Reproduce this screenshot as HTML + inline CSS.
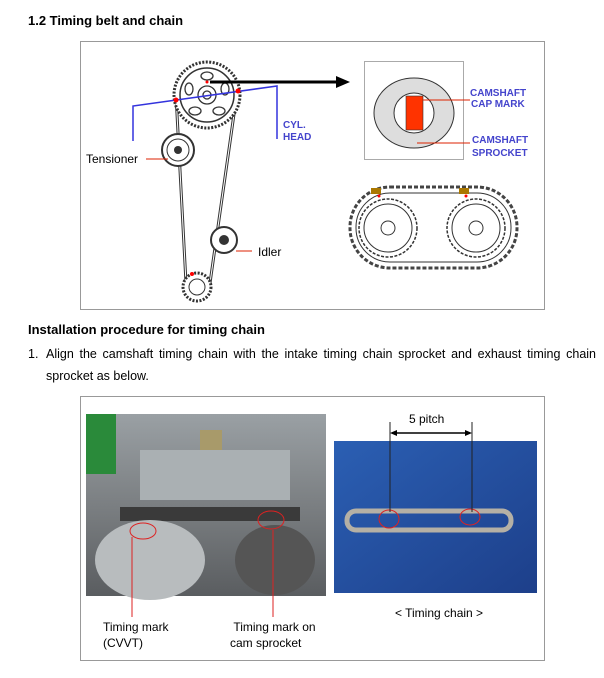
<!DOCTYPE html>
<html><head><style>
body{margin:0;background:#fff;font-family:"Liberation Sans",sans-serif;}
.t{position:absolute;white-space:nowrap;color:#000}
</style></head><body>
<div style="position:relative;width:604px;height:678px;overflow:hidden">
<div class="t" style="left:28px;top:13px;font-size:13px;font-weight:bold">1.2 Timing belt and chain</div>
<div class="t" style="left:28px;top:322px;font-size:13px;font-weight:bold">Installation procedure for timing chain</div>
<div class="t" style="left:28px;top:343px;font-size:12.5px;line-height:22px">1.</div>
<div class="t" style="left:46px;top:343px;width:550px;font-size:12.5px;line-height:22px;white-space:normal;text-align:justify;text-align-last:justify">Align the camshaft timing chain with the intake timing chain sprocket and exhaust timing chain</div>
<div class="t" style="left:46px;top:365px;font-size:12.5px;line-height:22px">sprocket as below.</div>

<svg style="position:absolute;left:0;top:0" width="604" height="678">
<rect x="80.5" y="41.5" width="464" height="268" fill="#fff" stroke="#999"/>
<path d="M176 95 L186 283 M236 100 L210 283" stroke="#333" stroke-width="3" fill="none"/>
<path d="M176 95 L186 283 M236 100 L210 283" stroke="#fff" stroke-width="1" fill="none"/>
<circle cx="207" cy="95" r="33" fill="#fff" stroke="#333" stroke-width="3" stroke-dasharray="2 1.5"/>
<circle cx="207" cy="95" r="27" fill="#fff" stroke="#333" stroke-width="1.5"/>
<g fill="none" stroke="#333" stroke-width="1.3">
<ellipse cx="207" cy="76" rx="6" ry="4"/><ellipse cx="225" cy="89" rx="4" ry="6"/><ellipse cx="219" cy="111" rx="6" ry="4"/><ellipse cx="195" cy="111" rx="6" ry="4"/><ellipse cx="189" cy="89" rx="4" ry="6"/>
<circle cx="207" cy="95" r="9"/><circle cx="207" cy="95" r="4"/></g>
<circle cx="178" cy="150" r="16" fill="#fff" stroke="#333" stroke-width="2"/>
<circle cx="178" cy="150" r="11" fill="none" stroke="#333"/><circle cx="178" cy="150" r="4" fill="#333"/>
<circle cx="224" cy="240" r="13" fill="#fff" stroke="#333" stroke-width="2"/>
<circle cx="224" cy="240" r="5" fill="#333"/>
<circle cx="197" cy="287" r="14" fill="#fff" stroke="#333" stroke-width="3" stroke-dasharray="2 1.5"/>
<circle cx="197" cy="287" r="8" fill="none" stroke="#333"/>
<circle cx="192" cy="274" r="2" fill="red"/>
<polyline points="133,141 133,106 277,86 277,139" fill="none" stroke="#33d" stroke-width="1.5"/>
<circle cx="176" cy="100" r="2.5" fill="red"/><circle cx="238" cy="91" r="2.5" fill="red"/><circle cx="207" cy="82" r="1.5" fill="red"/>
<line x1="210" y1="82" x2="340" y2="82" stroke="#000" stroke-width="3"/>
<polygon points="336,76 350,82 336,88" fill="#000"/>
<text x="283" y="128" font-size="10" font-weight="bold" fill="#44c" font-family="Liberation Sans">CYL.</text>
<text x="283" y="140" font-size="10" font-weight="bold" fill="#44c" font-family="Liberation Sans">HEAD</text>
<line x1="146" y1="159" x2="168" y2="159" stroke="#d20"/>
<text x="86" y="163" font-size="12" font-family="Liberation Sans">Tensioner</text>
<line x1="236" y1="251" x2="252" y2="251" stroke="#d20"/>
<text x="258" y="256" font-size="12" font-family="Liberation Sans">Idler</text>
<rect x="364.5" y="61.5" width="99" height="98" fill="#fff" stroke="#aaa"/>
<ellipse cx="414" cy="113" rx="40" ry="35" fill="#ddd" stroke="#333"/>
<circle cx="414" cy="113" r="20" fill="#fff" stroke="#333"/>
<rect x="406" y="96" width="17" height="34" fill="#f30" stroke="#333" stroke-width=".6"/>
<line x1="423" y1="100" x2="470" y2="100" stroke="#d20"/>
<line x1="417" y1="143" x2="470" y2="143" stroke="#d20"/>
<g font-size="10" font-weight="bold" fill="#44c" font-family="Liberation Sans">
<text x="470" y="96">CAMSHAFT</text><text x="471" y="107">CAP MARK</text>
<text x="472" y="143">CAMSHAFT</text><text x="472" y="156">SPROCKET</text></g>
<rect x="350" y="187" width="167" height="81" rx="40" fill="#fff" stroke="#444" stroke-width="3" stroke-dasharray="4 2"/>
<rect x="356" y="193" width="155" height="69" rx="34" fill="#fff" stroke="#333"/>
<circle cx="388" cy="228" r="29" fill="#fff" stroke="#333" stroke-dasharray="3 1.5" stroke-width="1.5"/>
<circle cx="388" cy="228" r="24" fill="none" stroke="#333"/><circle cx="388" cy="228" r="7" fill="none" stroke="#333"/>
<circle cx="476" cy="228" r="29" fill="#fff" stroke="#333" stroke-dasharray="3 1.5" stroke-width="1.5"/>
<circle cx="476" cy="228" r="24" fill="none" stroke="#333"/><circle cx="476" cy="228" r="7" fill="none" stroke="#333"/>
<rect x="371" y="188" width="10" height="6" fill="#a70"/><rect x="459" y="188" width="10" height="6" fill="#a70"/>
<circle cx="379" cy="196" r="1.5" fill="red"/><circle cx="466" cy="196" r="1.5" fill="red"/>

<rect x="80.5" y="396.5" width="464" height="264" fill="#fff" stroke="#999"/>
<defs><linearGradient id="g1" x1="0" y1="0" x2="0" y2="1"><stop offset="0" stop-color="#9aa0a4"/><stop offset=".5" stop-color="#7b7f82"/><stop offset="1" stop-color="#5a5d60"/></linearGradient>
<linearGradient id="g2" x1="0" y1="0" x2="1" y2="1"><stop offset="0" stop-color="#2b5fb3"/><stop offset="1" stop-color="#1d3f8a"/></linearGradient></defs>
<rect x="86" y="414" width="240" height="182" fill="url(#g1)"/>
<rect x="86" y="414" width="30" height="60" fill="#2a8a3a"/>
<rect x="200" y="430" width="22" height="50" fill="#a89a6a"/>
<rect x="140" y="450" width="150" height="50" fill="#aab0b3"/>
<rect x="120" y="507" width="180" height="14" fill="#3a3a3a"/>
<ellipse cx="150" cy="560" rx="55" ry="40" fill="#b8bcbe"/>
<ellipse cx="275" cy="560" rx="40" ry="35" fill="#555"/>
<ellipse cx="143" cy="531" rx="13" ry="8" fill="none" stroke="#d22"/>
<ellipse cx="271" cy="520" rx="13" ry="9" fill="none" stroke="#d22"/>
<line x1="132" y1="537" x2="132" y2="617" stroke="#d22"/>
<line x1="273" y1="530" x2="273" y2="617" stroke="#d22"/>
<rect x="334" y="441" width="203" height="152" fill="url(#g2)"/>
<rect x="347" y="511" width="164" height="19" rx="9" fill="none" stroke="#b5b0a5" stroke-width="5"/>
<ellipse cx="389" cy="519" rx="10" ry="9" fill="none" stroke="#d22"/>
<ellipse cx="470" cy="517" rx="10" ry="8" fill="none" stroke="#d22"/>
<line x1="390" y1="422" x2="390" y2="512" stroke="#222"/>
<line x1="472" y1="422" x2="472" y2="512" stroke="#222"/>
<line x1="392" y1="433" x2="470" y2="433" stroke="#000" stroke-width="1.5"/>
<polygon points="390,433 397,430 397,436" fill="#000"/><polygon points="472,433 465,430 465,436" fill="#000"/>
</svg>
<div class="t" style="left:409px;top:412px;font-size:12px">5 pitch</div>
<div class="t" style="left:395px;top:606px;font-size:12px">&lt; Timing chain &gt;</div>
<div class="t" style="left:103px;top:619px;font-size:12px;line-height:16px">Timing mark<br>(CVVT)</div>
<div class="t" style="left:230px;top:619px;font-size:12px;line-height:16px">&nbsp;Timing mark on<br>cam sprocket</div>
</div>
</body></html>
